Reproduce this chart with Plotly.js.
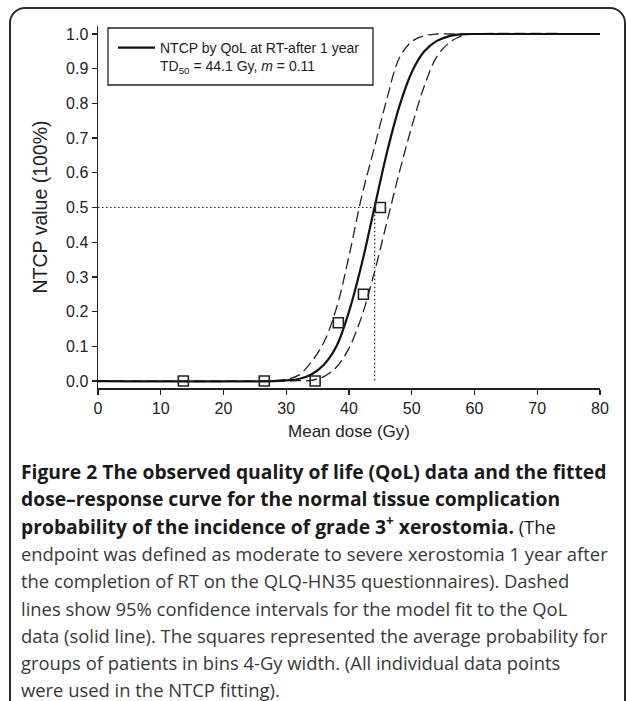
<!DOCTYPE html>
<html>
<head>
<meta charset="utf-8">
<script src="https://cdn.plot.ly/plotly-3.0.1.min.js"></script>
<style>
  html, body { margin: 0; padding: 0; background: #fff; overflow: hidden; }
  #wrap { position: relative; width: 627px; height: 701px; }
  #chart { position: absolute; left: 0; top: 0; width: 627px; height: 701px; }
  #frame { position: absolute; left: 9px; top: 7px; width: 617px; height: 720px;
           box-sizing: border-box; border: 2px solid #2a2a2a; border-radius: 16px; pointer-events: none; }
</style>
</head>
<body>
<div id="wrap">
  <div id="chart"></div>
  <div id="frame"></div>
</div>
<script>
// ---- data ----
const dose      = [0, 28, 30, 32, 34, 36, 38, 40, 42, 44, 46, 48, 50, 52, 54, 56, 58, 60, 80];
const ntcpFit   = [0, 0, 0.002, 0.006, 0.019, 0.047, 0.1, 0.2, 0.335, 0.495, 0.655, 0.79, 0.89, 0.95, 0.98, 0.994, 0.999, 1, 1];
const ntcpCiHi  = [0, 0.001, 0.005, 0.017, 0.055, 0.112, 0.21, 0.36, 0.53, 0.67, 0.81, 0.93, 0.978, 0.995, 1, 1, 1, 1, 1];
const ntcpCiLo  = [0, 0, 0, 0.001, 0.002, 0.013, 0.04, 0.095, 0.185, 0.31, 0.455, 0.6, 0.733, 0.85, 0.935, 0.975, 0.995, 1, 1];
const binDose   = [13.6, 26.5, 34.6, 38.3, 42.3, 45.0];
const binNtcp   = [0, 0, 0, 0.168, 0.25, 0.5];
const td50      = 44.1;
const halfLevel = 0.5;
const legendName = 'NTCP by QoL at RT-after 1 year<br>TD<sub>50</sub> = 44.1 Gy, <i>m</i> = 0.11';
const xTitle = 'Mean dose (Gy)';
const yTitle = 'NTCP value (100%)';
const captionLines = [
  '<b>Figure 2 The observed quality of life (QoL) data and the fitted</b>',
  '<b>dose–response curve for the normal tissue complication</b>',
  '<span style="font-size:19.3px"><b>probability of the incidence of grade 3<sup>+</sup> xerostomia.</b></span> (The',
  'endpoint was defined as moderate to severe xerostomia 1 year after',
  'the completion of RT on the QLQ-HN35 questionnaires). Dashed',
  'lines show 95% confidence intervals for the model fit to the QoL',
  'data (solid line). The squares represented the average probability for',
  'groups of patients in bins 4-Gy width. (All individual data points',
  'were used in the NTCP fitting).'
];

// ---- layout geometry ----
const W = 627, H = 701;
const L = 98, R = 600, T = 26, B = 388;
const px2x = p => (p - L) / (R - L);
const py2y = p => (B - p) / (B - T);
const ink = '#222';
const axFont = 'Liberation Sans, Arial, sans-serif';
const capFont = 'Open Sans, sans-serif';

const traces = [
  { x: dose, y: ntcpCiHi, mode: 'lines', line: { color: ink, width: 1.3, dash: '11px,5px', shape: 'spline' }, showlegend: false, hoverinfo: 'skip' },
  { x: dose, y: ntcpCiLo, mode: 'lines', line: { color: ink, width: 1.3, dash: '11px,5px', shape: 'spline' }, showlegend: false, hoverinfo: 'skip' },
  { x: [0, td50, td50], y: [halfLevel, halfLevel, 0], mode: 'lines', line: { color: ink, width: 1.2, dash: '1.5px,2.5px' }, showlegend: false, hoverinfo: 'skip' },
  { x: dose, y: ntcpFit, mode: 'lines', name: legendName, line: { color: '#111', width: 2.2, shape: 'spline' } },
  { x: binDose, y: binNtcp, mode: 'markers', marker: { symbol: 'square-open', size: 10, color: ink, line: { width: 1.6, color: ink } }, showlegend: false, cliponaxis: false }
];

const caption = captionLines.map((t, i) => ({
  text: t, xref: 'paper', yref: 'paper', x: px2x(19), y: py2y(471.5 + i * 27.3),
  xanchor: 'left', yanchor: 'middle', showarrow: false, align: 'left',
  font: { family: capFont, size: i < 2 ? 19.3 : 18.4, color: i < 3 ? '#1a1a1a' : '#383838' }
}));

const layout = {
  width: W, height: H,
  margin: { l: L, r: W - R, t: T, b: H - B, pad: 0 },
  paper_bgcolor: 'rgba(0,0,0,0)', plot_bgcolor: 'rgba(0,0,0,0)',
  showlegend: true,
  legend: {
    x: px2x(113), y: py2y(32), xanchor: 'left', yanchor: 'top',
    bgcolor: 'rgba(0,0,0,0)', borderwidth: 0, valign: 'top', itemwidth: 37,
    font: { family: axFont, size: 14, color: ink }
  },
  xaxis: {
    range: [0, 80], dtick: 10, tick0: 0, showgrid: false, zeroline: false,
    showline: true, linecolor: ink, linewidth: 1.5, mirror: false,
    ticks: 'outside', ticklen: 5, tickwidth: 1.3, tickcolor: ink,
    tickfont: { family: axFont, size: 16, color: ink },
    title: { text: xTitle, font: { family: axFont, size: 17, color: ink }, standoff: 9 },
    automargin: false
  },
  yaxis: {
    range: [-0.02, 1.023], dtick: 0.1, tick0: 0, tickformat: '.1f', showgrid: false, zeroline: false,
    showline: true, linecolor: ink, linewidth: 1.5,
    ticks: 'outside', ticklen: 5, tickwidth: 1.3, tickcolor: ink,
    tickfont: { family: axFont, size: 16, color: ink },
    title: { text: yTitle, font: { family: axFont, size: 19.5, color: ink }, standoff: 13 },
    automargin: false
  },
  shapes: [
    { type: 'rect', xref: 'paper', yref: 'paper', x0: px2x(108), x1: px2x(373), y0: py2y(85), y1: py2y(28),
      line: { color: ink, width: 1.3 }, fillcolor: 'rgba(0,0,0,0)' }
  ],
  annotations: caption
};

Plotly.newPlot('chart', traces, layout, { staticPlot: true, displayModeBar: false });
</script>
</body>
</html>
